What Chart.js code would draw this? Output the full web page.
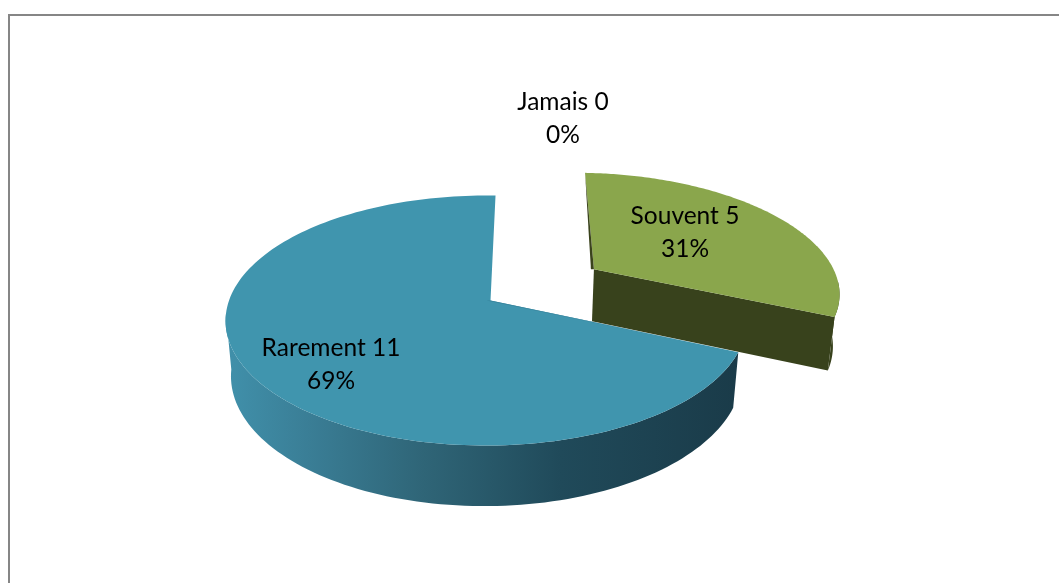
<!DOCTYPE html>
<html lang="fr">
<head>
<meta charset="utf-8">
<title>Camembert 3D</title>
<script src="https://cdn.jsdelivr.net/npm/chart.js@4/dist/chart.umd.min.js"></script>
<style>
html,body{margin:0;padding:0;width:1059px;height:583px;overflow:hidden;background:#fff}
#frame{position:absolute;left:8px;top:14px;width:1200px;height:800px;border:2px solid #868686;box-sizing:border-box}
#wrap{position:absolute;left:0;top:0;width:1059px;height:583px}
</style>
</head>
<body>
<div id="frame"></div>
<div id="wrap"><canvas id="c" width="1059" height="583"></canvas></div>
<script>
const categories = ['Jamais', 'Souvent', 'Rarement'];
const values = [0, 5, 11];
const topColors = ['#4f81bd', '#8aa64c', '#4095ae'];
const explode = [0, 50, 0];

// Perspective camera: maps the pie plane (unit circle) to the page.
const view = {cx: 490.5, cy: 300.5, a: 257.3, b: 121.8, p: 0.16, q: -0.016, h: 55, r: 0.02};
function project(u, v, bottom) {
  const w = 1 - view.p * v - view.q * u + (bottom ? view.r : 0);
  return {
    x: view.cx + view.a * u / w,
    y: view.cy + (view.b * v + (bottom ? view.h : 0)) / w
  };
}
const wedgeShift = {1: 3, 2: 4};
const textAnchors = [[563, 102], [685, 216], [331, 348]];
const lineGap = 33;

function arcPoints(el, bottom, frontOnly) {
  const R = el.outerRadius, off = (el.options.offset || 0) / R;
  const mid = (el.startAngle + el.endAngle) / 2;
  const ox = Math.cos(mid) * off, oy = Math.sin(mid) * off;
  const pts = [], n = 160;
  for (let i = 0; i <= n; i++) {
    const t = el.startAngle + (el.endAngle - el.startAngle) * i / n;
    if (frontOnly && Math.sin(t) < 0.1) continue;
    pts.push(project(ox + Math.cos(t), oy + Math.sin(t), bottom));
  }
  return {pts, apex: project(ox, oy, bottom)};
}
function poly(ctx, pts, fill) {
  ctx.beginPath();
  pts.forEach((p, i) => i ? ctx.lineTo(p.x, p.y) : ctx.moveTo(p.x, p.y));
  ctx.closePath();
  ctx.fillStyle = fill;
  ctx.fill();
}

const pie3d = {
  id: 'pie3d',
  beforeDatasetDraw(chart, args) {
    const ctx = chart.ctx, arcs = args.meta.data;
    const wallGrad = ctx.createLinearGradient(232, 0, 737, 0);
    wallGrad.addColorStop(0, '#408fa9');
    wallGrad.addColorStop(0.15, '#3a7e96');
    wallGrad.addColorStop(0.38, '#2f6577');
    wallGrad.addColorStop(0.65, '#204a5a');
    wallGrad.addColorStop(1, '#1a3b49');
    const walls = {1: '#38421c', 2: wallGrad};
    const strip = {1: '#3a431c', 2: '#37839c'};
    [1, 2].forEach(i => {
      const el = arcs[i];
      const top = arcPoints(el, false), bot = arcPoints(el, true);
      const topF = arcPoints(el, false, true), botF = arcPoints(el, true, true);
      // outer wall (only the part that faces the viewer)
      poly(ctx, topF.pts.concat(botF.pts.slice().reverse()), walls[i]);
      // radial end wall
      const te = top.pts[top.pts.length - 1], be = bot.pts[bot.pts.length - 1];
      if (i === 1) poly(ctx, [top.apex, te, be, bot.apex], walls[i]);
      // top face
      poly(ctx, [top.apex].concat(top.pts), el.options.backgroundColor);
      // thin sliver of the start wall
      const s = top.pts[0];
      poly(ctx, [s, top.apex, {x: top.apex.x - wedgeShift[i], y: top.apex.y}], strip[i]);
    });
    // texts
    ctx.fillStyle = '#000';
    ctx.font = '24.5px Lato, "Open Sans", sans-serif';
    ctx.textAlign = 'center';
    ctx.textBaseline = 'middle';
    const total = values.reduce((s, x) => s + x, 0);
    categories.forEach((c, i) => {
      const [x, y] = textAnchors[i];
      ctx.fillText(c + ' ' + values[i], x, y);
      ctx.fillText(Math.round(values[i] / total * 100) + '%', x, y + lineGap);
    });
    return false;
  }
};

new Chart(document.getElementById('c'), {
  type: 'pie',
  data: {
    labels: categories,
    datasets: [{data: values, backgroundColor: topColors, offset: explode, borderWidth: 0}]
  },
  options: {
    responsive: false,
    animation: false,
    radius: 100,
    rotation: 1.3,
    layout: {padding: 0},
    plugins: {legend: {display: false}, tooltip: {enabled: false}, title: {display: false}}
  },
  plugins: [pie3d]
});
</script>
</body>
</html>
